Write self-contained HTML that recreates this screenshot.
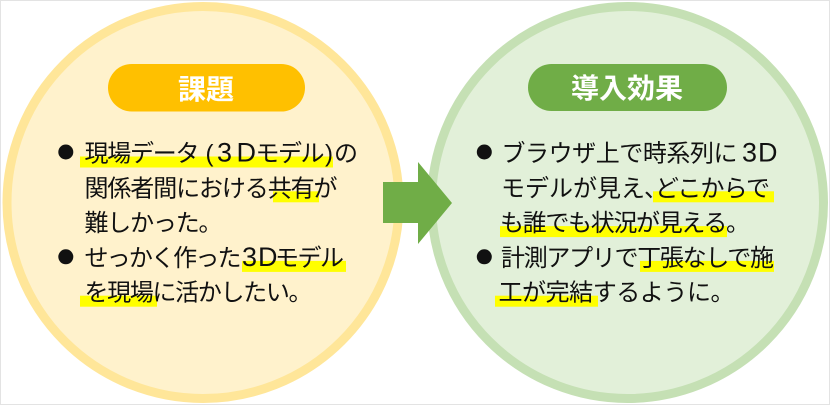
<!DOCTYPE html>
<html lang="ja">
<head>
<meta charset="utf-8">
<style>
  html, body { margin: 0; padding: 0; background: #ffffff; }
  svg { display: block; }
  .t { font-family: "Liberation Sans", "Noto Sans CJK JP", sans-serif; font-size: 24px; fill: #111111; }
  .n { font-family: "Liberation Sans", "Noto Sans CJK JP", sans-serif; font-size: 27px; fill: #111111; }
  .h { font-family: "Liberation Sans", "Noto Sans CJK JP", sans-serif; font-size: 28px; font-weight: bold; fill: #ffffff; }
</style>
</head>
<body>
<svg width="830" height="405" viewBox="0 0 830 405" xmlns="http://www.w3.org/2000/svg">
  <!-- frame -->
  <rect x="0.5" y="0.5" width="829" height="404" fill="#ffffff" stroke="#e3e3e3" stroke-width="1"/>

  <!-- circles -->
  <circle cx="203" cy="202.5" r="196" fill="#fff2cc" stroke="#ffe699" stroke-width="9"/>
  <circle cx="627.5" cy="202.5" r="196" fill="#e2f0d9" stroke="#c5e0b4" stroke-width="9"/>

  <!-- pills -->
  <rect x="108" y="64" width="197" height="47.5" rx="23.75" ry="23.75" fill="#ffc000"/>
  <rect x="528" y="64" width="199" height="47" rx="23.5" ry="23.5" fill="#70ad47"/>
  <text class="h" x="206" y="99" text-anchor="middle">課題</text>
  <text class="h" x="627" y="98" text-anchor="middle">導入効果</text>

  <!-- highlights -->
  <g fill="#ffff00">
    <rect x="80" y="156.5" width="253" height="11"/>
    <rect x="273" y="191.3" width="46" height="11"/>
    <rect x="242" y="260.9" width="104" height="11"/>
    <rect x="80" y="295.7" width="77" height="11"/>
    <rect x="653" y="191.3" width="121" height="11"/>
    <rect x="500" y="226.1" width="227" height="11"/>
    <rect x="640" y="260.9" width="134" height="11"/>
    <rect x="495" y="295.7" width="103" height="11"/>
  </g>

  <!-- bullets -->
  <g fill="#111111">
    <circle cx="65.8" cy="152" r="7.5"/>
    <circle cx="65.8" cy="256.8" r="7.5"/>
    <circle cx="484.3" cy="152" r="7.5"/>
    <circle cx="484.3" cy="256.8" r="7.5"/>
  </g>

  <!-- left text -->
  <text class="t" x="84.5" y="161.5" textLength="115" lengthAdjust="spacing">現場データ</text>
  <text class="t" x="205.5" y="161.5">(</text>
  <text class="n" x="217" y="161.5">3</text>
  <text class="n" x="236.5" y="161.5">D</text>
  <text class="t" x="255.5" y="161.5" textLength="69" lengthAdjust="spacing">モデル</text>
  <text class="t" x="325" y="161.5">)</text>
  <text class="t" x="334" y="161.5">の</text>

  <text class="t" x="84.5" y="196.3" textLength="253" lengthAdjust="spacing">関係者間における共有が</text>
  <text class="t" x="84.5" y="231.1" textLength="138" lengthAdjust="spacing">難しかった。</text>

  <text class="t" x="84.5" y="265.9" textLength="157" lengthAdjust="spacing">せっかく作った</text>
  <text class="n" x="242" y="265.9">3</text>
  <text class="n" x="258" y="265.9">D</text>
  <text class="t" x="275" y="265.9" textLength="69" lengthAdjust="spacing">モデル</text>

  <text class="t" x="84.5" y="300.7" textLength="228" lengthAdjust="spacing">を現場に活かしたい。</text>

  <!-- right text -->
  <text class="t" x="501.5" y="161.5" textLength="236" lengthAdjust="spacing">ブラウザ上で時系列に</text>
  <text class="n" x="742" y="161.5">3</text>
  <text class="n" x="758" y="161.5">D</text>

  <text class="t" x="501" y="196.3" textLength="144" lengthAdjust="spacing">モデルが見え</text>
  <text class="t" x="644" y="196.3">、</text>
  <text class="t" x="655" y="196.3" textLength="115" lengthAdjust="spacing">どこからで</text>

  <text class="t" x="500" y="231.1" textLength="250" lengthAdjust="spacing">も誰でも状況が見える。</text>
  <text class="t" x="501" y="265.9" textLength="273" lengthAdjust="spacing">計測アプリで丁張なしで施</text>
  <text class="t" x="498.5" y="300.7" textLength="236" lengthAdjust="spacing">工が完結するように。</text>

  <!-- arrow -->
  <polygon points="383,182 418,182 418,162 452,203 418,244 418,223 383,223" fill="#70ad47"/>
</svg>
</body>
</html>
